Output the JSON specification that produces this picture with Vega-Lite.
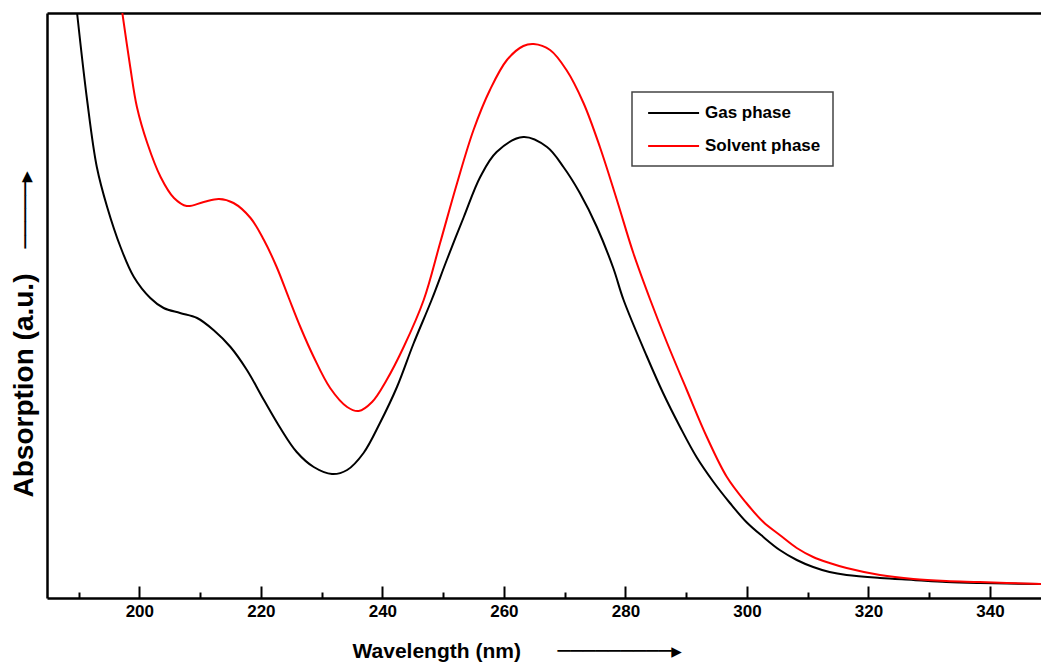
{
  "$schema": "https://vega.github.io/schema/vega-lite/v6.json",
  "width": 994,
  "height": 585,
  "autosize": {"type": "none"},
  "padding": {"left": 47, "top": 13, "right": 0, "bottom": 65},
  "background": "white",
  "config": {
    "view": {"stroke": null},
    "font": "Liberation Sans",
    "legend": {"strokeWidth": 1.5}
  },
  "data": {
    "values": [
      {"series": "Gas phase", "wavelength": 189.75, "absorption": 5.85},
      {"series": "Gas phase", "wavelength": 191.4, "absorption": 4.98},
      {"series": "Gas phase", "wavelength": 193.0, "absorption": 4.31},
      {"series": "Gas phase", "wavelength": 194.7, "absorption": 3.91},
      {"series": "Gas phase", "wavelength": 196.9, "absorption": 3.51},
      {"series": "Gas phase", "wavelength": 199.1, "absorption": 3.21},
      {"series": "Gas phase", "wavelength": 201.8, "absorption": 3.0},
      {"series": "Gas phase", "wavelength": 204.0, "absorption": 2.9},
      {"series": "Gas phase", "wavelength": 206.7, "absorption": 2.85},
      {"series": "Gas phase", "wavelength": 209.5, "absorption": 2.8},
      {"series": "Gas phase", "wavelength": 212.2, "absorption": 2.68},
      {"series": "Gas phase", "wavelength": 215.0, "absorption": 2.51},
      {"series": "Gas phase", "wavelength": 217.7, "absorption": 2.28},
      {"series": "Gas phase", "wavelength": 220.5, "absorption": 1.98},
      {"series": "Gas phase", "wavelength": 223.2, "absorption": 1.7},
      {"series": "Gas phase", "wavelength": 225.9, "absorption": 1.46},
      {"series": "Gas phase", "wavelength": 228.7, "absorption": 1.31},
      {"series": "Gas phase", "wavelength": 231.7, "absorption": 1.24},
      {"series": "Gas phase", "wavelength": 234.2, "absorption": 1.28},
      {"series": "Gas phase", "wavelength": 236.9, "absorption": 1.45},
      {"series": "Gas phase", "wavelength": 239.6, "absorption": 1.75},
      {"series": "Gas phase", "wavelength": 242.4, "absorption": 2.11},
      {"series": "Gas phase", "wavelength": 245.1, "absorption": 2.54},
      {"series": "Gas phase", "wavelength": 248.1, "absorption": 2.98},
      {"series": "Gas phase", "wavelength": 250.6, "absorption": 3.38},
      {"series": "Gas phase", "wavelength": 253.4, "absorption": 3.81},
      {"series": "Gas phase", "wavelength": 256.1, "absorption": 4.21},
      {"series": "Gas phase", "wavelength": 258.8, "absorption": 4.46},
      {"series": "Gas phase", "wavelength": 263.2, "absorption": 4.61},
      {"series": "Gas phase", "wavelength": 267.1, "absorption": 4.51},
      {"series": "Gas phase", "wavelength": 269.8, "absorption": 4.31},
      {"series": "Gas phase", "wavelength": 272.5, "absorption": 4.05},
      {"series": "Gas phase", "wavelength": 275.3, "absorption": 3.71},
      {"series": "Gas phase", "wavelength": 278.0, "absorption": 3.3},
      {"series": "Gas phase", "wavelength": 279.7, "absorption": 2.98},
      {"series": "Gas phase", "wavelength": 283.5, "absorption": 2.42},
      {"series": "Gas phase", "wavelength": 286.2, "absorption": 2.05},
      {"series": "Gas phase", "wavelength": 289.0, "absorption": 1.71},
      {"series": "Gas phase", "wavelength": 291.7, "absorption": 1.41},
      {"series": "Gas phase", "wavelength": 294.5, "absorption": 1.16},
      {"series": "Gas phase", "wavelength": 297.2, "absorption": 0.95},
      {"series": "Gas phase", "wavelength": 299.9, "absorption": 0.76},
      {"series": "Gas phase", "wavelength": 302.7, "absorption": 0.61},
      {"series": "Gas phase", "wavelength": 305.4, "absorption": 0.48},
      {"series": "Gas phase", "wavelength": 308.2, "absorption": 0.38},
      {"series": "Gas phase", "wavelength": 310.9, "absorption": 0.31},
      {"series": "Gas phase", "wavelength": 313.6, "absorption": 0.26},
      {"series": "Gas phase", "wavelength": 316.4, "absorption": 0.23},
      {"series": "Gas phase", "wavelength": 321.9, "absorption": 0.2},
      {"series": "Gas phase", "wavelength": 327.4, "absorption": 0.18},
      {"series": "Gas phase", "wavelength": 332.8, "absorption": 0.16},
      {"series": "Gas phase", "wavelength": 338.3, "absorption": 0.15},
      {"series": "Gas phase", "wavelength": 348.4, "absorption": 0.14},
      {"series": "Solvent phase", "wavelength": 197.2, "absorption": 5.85},
      {"series": "Solvent phase", "wavelength": 198.5, "absorption": 5.31},
      {"series": "Solvent phase", "wavelength": 199.6, "absorption": 4.91},
      {"series": "Solvent phase", "wavelength": 201.3, "absorption": 4.55},
      {"series": "Solvent phase", "wavelength": 203.5, "absorption": 4.21},
      {"series": "Solvent phase", "wavelength": 205.7, "absorption": 4.0},
      {"series": "Solvent phase", "wavelength": 207.8, "absorption": 3.92},
      {"series": "Solvent phase", "wavelength": 210.6, "absorption": 3.96},
      {"series": "Solvent phase", "wavelength": 213.1, "absorption": 3.99},
      {"series": "Solvent phase", "wavelength": 215.5, "absorption": 3.95},
      {"series": "Solvent phase", "wavelength": 218.3, "absorption": 3.8},
      {"series": "Solvent phase", "wavelength": 220.5, "absorption": 3.58},
      {"series": "Solvent phase", "wavelength": 222.6, "absorption": 3.31},
      {"series": "Solvent phase", "wavelength": 224.6, "absorption": 3.0},
      {"series": "Solvent phase", "wavelength": 226.5, "absorption": 2.71},
      {"series": "Solvent phase", "wavelength": 228.7, "absorption": 2.41},
      {"series": "Solvent phase", "wavelength": 231.4, "absorption": 2.1},
      {"series": "Solvent phase", "wavelength": 234.2, "absorption": 1.91},
      {"series": "Solvent phase", "wavelength": 236.1, "absorption": 1.87},
      {"series": "Solvent phase", "wavelength": 238.3, "absorption": 1.96},
      {"series": "Solvent phase", "wavelength": 240.7, "absorption": 2.18},
      {"series": "Solvent phase", "wavelength": 243.5, "absorption": 2.51},
      {"series": "Solvent phase", "wavelength": 246.8, "absorption": 2.98},
      {"series": "Solvent phase", "wavelength": 249.5, "absorption": 3.55},
      {"series": "Solvent phase", "wavelength": 252.3, "absorption": 4.15},
      {"series": "Solvent phase", "wavelength": 255.0, "absorption": 4.68},
      {"series": "Solvent phase", "wavelength": 257.7, "absorption": 5.08},
      {"series": "Solvent phase", "wavelength": 260.5, "absorption": 5.38},
      {"series": "Solvent phase", "wavelength": 263.2, "absorption": 5.52},
      {"series": "Solvent phase", "wavelength": 264.9, "absorption": 5.54},
      {"series": "Solvent phase", "wavelength": 267.6, "absorption": 5.48},
      {"series": "Solvent phase", "wavelength": 270.3, "absorption": 5.28},
      {"series": "Solvent phase", "wavelength": 273.1, "absorption": 4.95},
      {"series": "Solvent phase", "wavelength": 275.8, "absorption": 4.51},
      {"series": "Solvent phase", "wavelength": 278.6, "absorption": 3.98},
      {"series": "Solvent phase", "wavelength": 281.3, "absorption": 3.45},
      {"series": "Solvent phase", "wavelength": 284.1, "absorption": 2.98},
      {"series": "Solvent phase", "wavelength": 286.8, "absorption": 2.56},
      {"series": "Solvent phase", "wavelength": 290.1, "absorption": 2.08},
      {"series": "Solvent phase", "wavelength": 293.4, "absorption": 1.61},
      {"series": "Solvent phase", "wavelength": 296.7, "absorption": 1.21},
      {"series": "Solvent phase", "wavelength": 299.9, "absorption": 0.95},
      {"series": "Solvent phase", "wavelength": 302.7, "absorption": 0.76},
      {"series": "Solvent phase", "wavelength": 305.4, "absorption": 0.63},
      {"series": "Solvent phase", "wavelength": 308.2, "absorption": 0.5},
      {"series": "Solvent phase", "wavelength": 310.9, "absorption": 0.41},
      {"series": "Solvent phase", "wavelength": 313.6, "absorption": 0.35},
      {"series": "Solvent phase", "wavelength": 316.4, "absorption": 0.3},
      {"series": "Solvent phase", "wavelength": 321.9, "absorption": 0.23},
      {"series": "Solvent phase", "wavelength": 327.4, "absorption": 0.19},
      {"series": "Solvent phase", "wavelength": 332.8, "absorption": 0.17},
      {"series": "Solvent phase", "wavelength": 338.3, "absorption": 0.16},
      {"series": "Solvent phase", "wavelength": 348.4, "absorption": 0.14}
    ]
  },
  "layer": [
    {
      "mark": {"type": "line", "clip": true, "strokeWidth": 2, "interpolate": "catmull-rom"},
      "encoding": {
        "x": {
          "field": "wavelength",
          "type": "quantitative",
          "scale": {"domain": [184.8, 348.4], "nice": false, "zero": false},
          "axis": {
            "values": [190, 200, 210, 220, 230, 240, 250, 260, 270, 280, 290, 300, 310, 320, 330, 340],
            "tickSize": {"condition": {"test": "datum.value % 20 === 0", "value": -12}, "value": -6},
            "labelExpr": "datum.value % 20 === 0 ? datum.label : ''",
            "tickColor": "black",
            "tickWidth": 2,
            "domainColor": "black",
            "domainWidth": 2.5,
            "grid": false,
            "labelFont": "Liberation Sans",
            "labelFontWeight": "bold",
            "labelFontSize": 17,
            "labelColor": "black",
            "labelPadding": 17,
            "labelFlush": false,
            "labelOverlap": false,
            "title": "Wavelength (nm)",
            "titleFont": "Liberation Sans",
            "titleFontSize": 21,
            "titleFontWeight": "bold",
            "titleColor": "black",
            "titleAlign": "left",
            "titleAnchor": "start",
            "titleX": 305,
            "titleY": 59,
            "titleBaseline": "alphabetic"
          }
        },
        "y": {
          "field": "absorption",
          "type": "quantitative",
          "scale": {"domain": [0, 5.85], "nice": false, "zero": false},
          "axis": {
            "ticks": false,
            "labels": false,
            "grid": false,
            "domainColor": "black",
            "domainWidth": 2.5,
            "title": "Absorption (a.u.)",
            "titleFont": "Liberation Sans",
            "titleFontSize": 28,
            "titleFontWeight": "bold",
            "titleColor": "black",
            "titleAngle": 270,
            "titleAlign": "left",
            "titleAnchor": "start",
            "titleX": -15,
            "titleY": 484,
            "titleBaseline": "alphabetic"
          }
        },
        "color": {
          "field": "series",
          "type": "nominal",
          "scale": {"domain": ["Gas phase", "Solvent phase"], "range": ["#000000", "#ff0000"]},
          "legend": {
            "orient": "none",
            "legendX": 585,
            "legendY": 79,
            "title": null,
            "symbolType": "M-0.61,0H5.76",
            "symbolSize": 256,
            "symbolStrokeWidth": 2,
            "symbolFillColor": "transparent",
            "labelFont": "Liberation Sans",
            "labelFontSize": 17,
            "labelFontWeight": "bold",
            "labelColor": "black",
            "labelOffset": 43,
            "strokeColor": "#444444",
            "fillColor": "white",
            "padding": 12,
            "rowPadding": 16
          }
        }
      }
    },
    {
      "mark": {"type": "line", "strokeOpacity": 0},
      "encoding": {
        "x": {
          "field": "wavelength",
          "type": "quantitative",
          "axis": {
            "orient": "top",
            "labels": false,
            "ticks": false,
            "grid": false,
            "title": null,
            "domainColor": "black",
            "domainWidth": 2.5
          }
        },
        "y": {
          "field": "absorption",
          "type": "quantitative",
          "axis": {
            "orient": "left",
            "labels": false,
            "ticks": false,
            "grid": false,
            "domain": false,
            "title": "─────▸",
            "titleFont": "DejaVu Sans",
            "titleFontSize": 22,
            "titleFontWeight": "normal",
            "titleColor": "black",
            "titleAngle": 270,
            "titleAlign": "left",
            "titleAnchor": "start",
            "titleX": -15,
            "titleY": 235,
            "titleBaseline": "alphabetic"
          }
        },
        "detail": {"field": "series", "type": "nominal"}
      }
    },
    {
      "mark": {"type": "line", "strokeOpacity": 0},
      "encoding": {
        "x": {
          "field": "wavelength",
          "type": "quantitative",
          "axis": {
            "orient": "bottom",
            "labels": false,
            "ticks": false,
            "grid": false,
            "domain": false,
            "title": "─────────▸",
            "titleFont": "DejaVu Sans",
            "titleFontSize": 21,
            "titleFontWeight": "normal",
            "titleColor": "black",
            "titleAlign": "left",
            "titleAnchor": "start",
            "titleX": 510,
            "titleY": 59,
            "titleBaseline": "alphabetic"
          }
        },
        "y": {"field": "absorption", "type": "quantitative", "axis": null},
        "detail": {"field": "series", "type": "nominal"}
      }
    }
  ],
  "resolve": {"axis": {"x": "independent", "y": "independent"}}
}
